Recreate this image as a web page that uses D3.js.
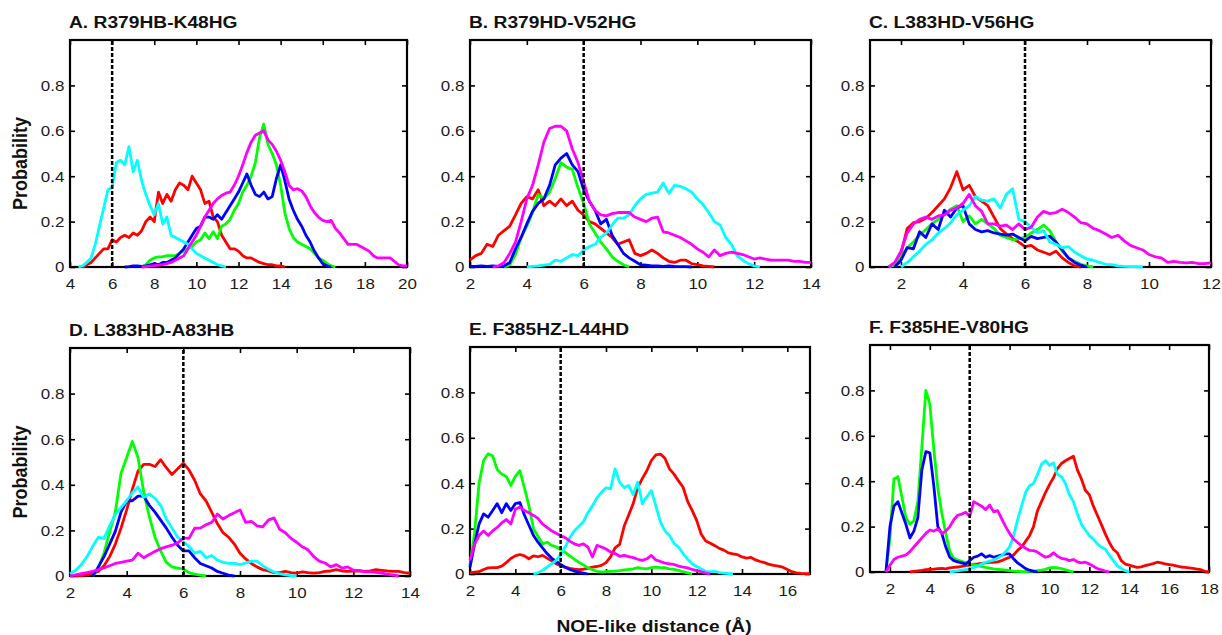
<!DOCTYPE html>
<html>
<head>
<meta charset="utf-8">
<script src="https://cdn.jsdelivr.net/npm/d3@7"></script>
<style>
  body { margin: 0; background: #fff; }
  svg { display: block; }
</style>
</head>
<body>
<svg id="chart" width="1222" height="635"></svg>
<script>
(function() {

	// histogram bins are 0.2 Å wide; each series is stored from its first bin
	var binWidth = 0.2,
		cutoff = 6,
		yTicks = [0, 0.2, 0.4, 0.6, 0.8];

	var panelTitles = ["A. R379HB-K48HG", "B. R379HD-V52HG", "C. L383HD-V56HG",
		"D. L383HD-A83HB", "E. F385HZ-L44HD", "F. F385HE-V80HG"];
	var xDomains = [[4, 20], [2, 14], [1, 12], [2, 14], [2, 17], [1, 18]];
	var xTicks = [
		[4, 6, 8, 10, 12, 14, 16, 18, 20],
		[2, 4, 6, 8, 10, 12, 14],
		[2, 4, 6, 8, 10, 12],
		[2, 4, 6, 8, 10, 12, 14],
		[2, 4, 6, 8, 10, 12, 14, 16],
		[2, 4, 6, 8, 10, 12, 14, 16, 18]
	];

	// first bin of each series: red, green, blue, cyan, magenta
	var aStarts = [4.6, 7.4, 6.6, 4.4, 7.4];
	var aRed = [0, 0.01, 0.02, 0.04, 0.06, 0.08, 0.08, 0.12, 0.11, 0.13, 0.14, 0.13, 0.15, 0.14, 0.16, 0.2, 0.22, 0.2, 0.33, 0.28, 0.32, 0.29, 0.34, 0.37, 0.36, 0.34, 0.4, 0.37, 0.34, 0.28, 0.29, 0.22, 0.2, 0.14, 0.11, 0.08, 0.08, 0.07, 0.05, 0.04, 0.04, 0.03, 0.02, 0.015, 0.01, 0.01, 0.005, 0.005, 0];
	var aGreen = [0, 0.01, 0.03, 0.04, 0.045, 0.045, 0.05, 0.05, 0.05, 0.06, 0.07, 0.08, 0.09, 0.11, 0.12, 0.15, 0.125, 0.155, 0.125, 0.18, 0.19, 0.21, 0.25, 0.28, 0.33, 0.36, 0.4, 0.46, 0.57, 0.63, 0.54, 0.5, 0.45, 0.36, 0.24, 0.17, 0.13, 0.11, 0.1, 0.09, 0.08, 0.06, 0.04, 0.03, 0.015, 0.005, 0];
	var aBlue = [0, 0.002, 0.005, 0.005, 0.003, 0.005, 0.01, 0.015, 0.01, 0.02, 0.02, 0.03, 0.04, 0.06, 0.08, 0.11, 0.14, 0.17, 0.18, 0.22, 0.22, 0.21, 0.23, 0.21, 0.24, 0.27, 0.3, 0.33, 0.37, 0.41, 0.36, 0.32, 0.31, 0.33, 0.3, 0.31, 0.39, 0.45, 0.38, 0.3, 0.25, 0.21, 0.18, 0.14, 0.11, 0.07, 0.04, 0.015, 0.005, 0];
	var aCyan = [0, 0.005, 0.02, 0.04, 0.1, 0.18, 0.26, 0.34, 0.35, 0.46, 0.47, 0.45, 0.53, 0.42, 0.47, 0.38, 0.32, 0.27, 0.23, 0.28, 0.19, 0.22, 0.14, 0.13, 0.12, 0.11, 0.1, 0.08, 0.06, 0.05, 0.04, 0.03, 0.02, 0.01, 0.005, 0];
	var aMagenta = [0, 0.002, 0.004, 0.006, 0.008, 0.01, 0.015, 0.02, 0.03, 0.04, 0.05, 0.08, 0.11, 0.14, 0.18, 0.22, 0.25, 0.28, 0.3, 0.315, 0.325, 0.33, 0.36, 0.4, 0.45, 0.505, 0.55, 0.58, 0.59, 0.6, 0.56, 0.54, 0.51, 0.47, 0.42, 0.36, 0.34, 0.345, 0.335, 0.31, 0.27, 0.24, 0.22, 0.205, 0.2, 0.205, 0.17, 0.15, 0.125, 0.1, 0.1, 0.1, 0.09, 0.08, 0.07, 0.05, 0.04, 0.04, 0.04, 0.04, 0.025, 0.01, 0.005, 0.005];

	var bStarts = [2.0, 3.2, 2.0, 4.0, 2.8];
	var bRed = [0.03, 0.05, 0.06, 0.1, 0.09, 0.14, 0.16, 0.18, 0.23, 0.28, 0.31, 0.3, 0.34, 0.27, 0.29, 0.27, 0.3, 0.27, 0.29, 0.25, 0.23, 0.2, 0.19, 0.17, 0.15, 0.13, 0.1, 0.11, 0.12, 0.06, 0.05, 0.06, 0.075, 0.06, 0.04, 0.025, 0.02, 0.03, 0.03, 0.015, 0.01, 0.005, 0.003, 0];
	var bGreen = [0, 0.01, 0.055, 0.13, 0.18, 0.24, 0.32, 0.3, 0.33, 0.39, 0.46, 0.44, 0.43, 0.35, 0.28, 0.19, 0.15, 0.11, 0.08, 0.045, 0.025, 0.01, 0];
	var bBlue = [0.003, 0.003, 0.005, 0.003, 0.005, 0.003, 0.005, 0.02, 0.08, 0.13, 0.19, 0.245, 0.28, 0.3, 0.36, 0.45, 0.48, 0.5, 0.45, 0.42, 0.34, 0.29, 0.25, 0.19, 0.21, 0.14, 0.1, 0.06, 0.04, 0.025, 0.01, 0.008, 0.005, 0.005, 0.003, 0.005, 0.003, 0.002, 0.002, 0];
	var bCyan = [0, 0.003, 0.005, 0.008, 0.012, 0.03, 0.025, 0.04, 0.055, 0.05, 0.075, 0.09, 0.1, 0.13, 0.15, 0.185, 0.215, 0.215, 0.23, 0.27, 0.3, 0.32, 0.325, 0.33, 0.37, 0.325, 0.36, 0.355, 0.345, 0.33, 0.3, 0.275, 0.24, 0.2, 0.185, 0.13, 0.1, 0.05, 0.03, 0.015, 0.005, 0];
	var bMagenta = [0, 0.005, 0.02, 0.06, 0.11, 0.2, 0.3, 0.36, 0.45, 0.55, 0.61, 0.62, 0.62, 0.6, 0.52, 0.46, 0.375, 0.29, 0.25, 0.23, 0.225, 0.235, 0.24, 0.24, 0.24, 0.22, 0.21, 0.2, 0.215, 0.22, 0.155, 0.15, 0.14, 0.13, 0.115, 0.1, 0.08, 0.065, 0.045, 0.075, 0.05, 0.06, 0.065, 0.06, 0.055, 0.045, 0.035, 0.04, 0.035, 0.03, 0.03, 0.03, 0.03, 0.025, 0.025, 0.02, 0.02];

	var cStarts = [1.6, 1.6, 1.8, 2.0, 1.6];
	var cRed = [0, 0.01, 0.06, 0.17, 0.195, 0.2, 0.215, 0.24, 0.27, 0.3, 0.35, 0.42, 0.34, 0.36, 0.31, 0.29, 0.27, 0.22, 0.17, 0.145, 0.125, 0.11, 0.09, 0.095, 0.075, 0.065, 0.055, 0.07, 0.04, 0.02, 0.005, 0];
	var cGreen = [0, 0.01, 0.045, 0.085, 0.11, 0.14, 0.165, 0.19, 0.21, 0.23, 0.255, 0.27, 0.2, 0.225, 0.19, 0.21, 0.19, 0.17, 0.14, 0.13, 0.12, 0.125, 0.13, 0.15, 0.165, 0.185, 0.16, 0.11, 0.07, 0.04, 0.025, 0.012, 0.005, 0];
	var cBlue = [0, 0.03, 0.085, 0.08, 0.155, 0.13, 0.19, 0.165, 0.25, 0.22, 0.26, 0.27, 0.19, 0.165, 0.155, 0.16, 0.15, 0.145, 0.14, 0.145, 0.13, 0.115, 0.135, 0.125, 0.13, 0.135, 0.11, 0.075, 0.04, 0.02, 0.008, 0];
	var cCyan = [0, 0.02, 0.045, 0.07, 0.1, 0.12, 0.15, 0.17, 0.195, 0.23, 0.25, 0.27, 0.31, 0.295, 0.29, 0.3, 0.26, 0.32, 0.345, 0.21, 0.2, 0.175, 0.15, 0.16, 0.11, 0.1, 0.085, 0.09, 0.065, 0.05, 0.035, 0.03, 0.02, 0.012, 0.01, 0.005, 0.003, 0.002, 0.001, 0];
	var cMagenta = [0, 0.02, 0.07, 0.15, 0.19, 0.21, 0.22, 0.21, 0.225, 0.23, 0.25, 0.26, 0.28, 0.32, 0.27, 0.245, 0.19, 0.19, 0.18, 0.185, 0.165, 0.19, 0.165, 0.175, 0.22, 0.245, 0.235, 0.24, 0.255, 0.24, 0.22, 0.195, 0.19, 0.17, 0.16, 0.145, 0.13, 0.14, 0.115, 0.095, 0.085, 0.075, 0.055, 0.045, 0.04, 0.02, 0.025, 0.02, 0.018, 0.02, 0.015, 0.015, 0.018];

	var dStarts = [2.2, 2.8, 2.8, 2.0, 2.0];
	var dRed = [0, 0.003, 0.005, 0.01, 0.02, 0.045, 0.085, 0.14, 0.21, 0.29, 0.38, 0.46, 0.49, 0.49, 0.48, 0.51, 0.475, 0.445, 0.47, 0.495, 0.465, 0.42, 0.36, 0.33, 0.28, 0.23, 0.19, 0.17, 0.14, 0.1, 0.075, 0.055, 0.04, 0.028, 0.022, 0.015, 0.015, 0.02, 0.015, 0.013, 0.018, 0.015, 0.013, 0.015, 0.02, 0.022, 0.028, 0.022, 0.02, 0.022, 0.023, 0.02, 0.022, 0.028, 0.025, 0.022, 0.02, 0.02, 0.015, 0.012];
	var dGreen = [0, 0.035, 0.1, 0.195, 0.28, 0.45, 0.52, 0.59, 0.52, 0.37, 0.26, 0.17, 0.11, 0.06, 0.04, 0.035, 0.03, 0.015, 0.008, 0.004, 0];
	var dBlue = [0, 0.04, 0.085, 0.14, 0.196, 0.28, 0.33, 0.33, 0.35, 0.35, 0.31, 0.28, 0.245, 0.21, 0.17, 0.135, 0.11, 0.11, 0.08, 0.055, 0.045, 0.035, 0.02, 0.012, 0.004, 0];
	var dCyan = [0.01, 0.025, 0.05, 0.085, 0.13, 0.17, 0.165, 0.22, 0.27, 0.3, 0.33, 0.365, 0.39, 0.345, 0.36, 0.34, 0.31, 0.25, 0.21, 0.17, 0.15, 0.13, 0.1, 0.108, 0.08, 0.09, 0.07, 0.06, 0.055, 0.055, 0.05, 0.057, 0.065, 0.065, 0.045, 0.03, 0.018, 0.01, 0.005, 0.002, 0];
	var dMagenta = [0, 0.005, 0.01, 0.015, 0.02, 0.028, 0.035, 0.045, 0.055, 0.06, 0.065, 0.07, 0.1, 0.08, 0.094, 0.108, 0.12, 0.128, 0.135, 0.145, 0.167, 0.165, 0.21, 0.21, 0.225, 0.235, 0.272, 0.25, 0.265, 0.277, 0.29, 0.235, 0.24, 0.22, 0.215, 0.245, 0.255, 0.205, 0.19, 0.165, 0.148, 0.128, 0.115, 0.085, 0.065, 0.057, 0.04, 0.05, 0.035, 0.04, 0.025, 0.025, 0.018, 0.018, 0.016, 0.013, 0.008, 0.004, 0];

	var eStarts = [2.0, 2.0, 2.0, 4.8, 2.0];
	var eRed = [0.005, 0.008, 0.01, 0.02, 0.027, 0.028, 0.028, 0.035, 0.05, 0.068, 0.08, 0.086, 0.08, 0.067, 0.08, 0.076, 0.082, 0.07, 0.058, 0.045, 0.036, 0.03, 0.025, 0.021, 0.019, 0.021, 0.025, 0.03, 0.033, 0.038, 0.05, 0.075, 0.115, 0.13, 0.21, 0.26, 0.31, 0.38, 0.42, 0.455, 0.5, 0.525, 0.528, 0.51, 0.463, 0.44, 0.41, 0.382, 0.32, 0.28, 0.236, 0.175, 0.145, 0.135, 0.125, 0.113, 0.105, 0.093, 0.089, 0.085, 0.075, 0.07, 0.073, 0.062, 0.055, 0.05, 0.042, 0.038, 0.035, 0.03, 0.02, 0.01, 0.005, 0.003, 0.002, 0.002];
	var eGreen = [0.04, 0.18, 0.4, 0.5, 0.53, 0.52, 0.46, 0.44, 0.43, 0.39, 0.43, 0.455, 0.38, 0.3, 0.2, 0.165, 0.133, 0.14, 0.126, 0.12, 0.107, 0.095, 0.08, 0.065, 0.052, 0.04, 0.027, 0.019, 0.012, 0.009, 0.01, 0.012, 0.013, 0.015, 0.018, 0.02, 0.023, 0.028, 0.025, 0.023, 0.028, 0.03, 0.028, 0.028, 0.023, 0.02, 0.016, 0.01, 0.005, 0];
	var eBlue = [0.03, 0.13, 0.22, 0.265, 0.25, 0.28, 0.31, 0.27, 0.31, 0.28, 0.31, 0.315, 0.26, 0.215, 0.17, 0.14, 0.115, 0.09, 0.07, 0.055, 0.042, 0.03, 0.02, 0.013, 0.008, 0.004, 0];
	var eCyan = [0, 0.005, 0.016, 0.03, 0.045, 0.06, 0.085, 0.12, 0.16, 0.19, 0.21, 0.23, 0.27, 0.3, 0.335, 0.36, 0.38, 0.375, 0.463, 0.405, 0.38, 0.39, 0.35, 0.404, 0.31, 0.34, 0.367, 0.3, 0.23, 0.19, 0.17, 0.135, 0.119, 0.09, 0.065, 0.045, 0.033, 0.022, 0.012, 0.01, 0.012, 0.006, 0.004, 0.002, 0];
	var eMagenta = [0.06, 0.13, 0.17, 0.19, 0.17, 0.19, 0.205, 0.225, 0.24, 0.22, 0.285, 0.295, 0.28, 0.27, 0.258, 0.245, 0.22, 0.205, 0.19, 0.18, 0.17, 0.16, 0.145, 0.133, 0.126, 0.133, 0.119, 0.075, 0.126, 0.119, 0.11, 0.097, 0.09, 0.078, 0.082, 0.077, 0.072, 0.065, 0.06, 0.067, 0.082, 0.062, 0.055, 0.048, 0.045, 0.042, 0.035, 0.03, 0.027, 0.02, 0.015, 0.01, 0.004, 0];

	var fStarts = [3.0, 1.8, 1.8, 5.0, 1.8];
	var fRed = [0, 0.003, 0.005, 0.007, 0.01, 0.012, 0.013, 0.015, 0.016, 0.014, 0.018, 0.02, 0.022, 0.025, 0.028, 0.03, 0.035, 0.036, 0.038, 0.04, 0.042, 0.043, 0.045, 0.05, 0.058, 0.065, 0.075, 0.095, 0.11, 0.135, 0.16, 0.2, 0.27, 0.31, 0.35, 0.385, 0.415, 0.455, 0.478, 0.49, 0.5, 0.51, 0.45, 0.41, 0.36, 0.34, 0.29, 0.25, 0.21, 0.168, 0.13, 0.1, 0.085, 0.05, 0.035, 0.03, 0.025, 0.02, 0.023, 0.028, 0.032, 0.037, 0.043, 0.04, 0.036, 0.033, 0.03, 0.026, 0.022, 0.02, 0.018, 0.016, 0.013, 0.01, 0.003, 0];
	var fGreen = [0, 0.15, 0.41, 0.42, 0.33, 0.24, 0.21, 0.225, 0.31, 0.55, 0.8, 0.74, 0.54, 0.37, 0.26, 0.17, 0.09, 0.06, 0.052, 0.047, 0.04, 0.035, 0.032, 0.028, 0.024, 0.02, 0.017, 0.014, 0.012, 0.01, 0.008, 0.006, 0.004, 0.003, 0.002, 0.002, 0.003, 0.004, 0.006, 0.008, 0.012, 0.018, 0.02, 0.018, 0.015, 0.01, 0.005, 0];
	var fBlue = [0, 0.2, 0.29, 0.31, 0.26, 0.21, 0.15, 0.18, 0.24, 0.45, 0.53, 0.525, 0.38, 0.2, 0.17, 0.11, 0.065, 0.05, 0.045, 0.04, 0.035, 0.05, 0.065, 0.07, 0.08, 0.065, 0.072, 0.065, 0.07, 0.075, 0.08, 0.08, 0.058, 0.04, 0.028, 0.015, 0.008, 0.004, 0];
	var fCyan = [0, 0.003, 0.005, 0.008, 0.01, 0.015, 0.02, 0.025, 0.035, 0.043, 0.048, 0.052, 0.062, 0.072, 0.09, 0.11, 0.16, 0.23, 0.29, 0.35, 0.38, 0.39, 0.43, 0.475, 0.49, 0.47, 0.48, 0.43, 0.42, 0.39, 0.34, 0.31, 0.255, 0.21, 0.185, 0.16, 0.145, 0.124, 0.11, 0.1, 0.075, 0.05, 0.028, 0.015, 0.006, 0];
	var fMagenta = [0, 0.03, 0.055, 0.065, 0.07, 0.075, 0.09, 0.11, 0.13, 0.15, 0.17, 0.185, 0.18, 0.19, 0.17, 0.18, 0.2, 0.23, 0.25, 0.255, 0.263, 0.245, 0.31, 0.3, 0.29, 0.275, 0.295, 0.265, 0.27, 0.235, 0.2, 0.17, 0.145, 0.13, 0.115, 0.105, 0.095, 0.094, 0.088, 0.075, 0.065, 0.07, 0.085, 0.07, 0.06, 0.057, 0.05, 0.055, 0.045, 0.04, 0.043, 0.035, 0.025, 0.015, 0.01, 0.004, 0];

	// red, green, blue, cyan, magenta
	var lineColours = ["#ff0000", "#00ff00", "#0000ff", "#00ffff", "#ff00ff"];
	var drawOrder = [0, 1, 2, 3, 4];

	var panelStarts = [aStarts, bStarts, cStarts, dStarts, eStarts, fStarts];
	var panelSeries = [
		[aRed, aGreen, aBlue, aCyan, aMagenta],
		[bRed, bGreen, bBlue, bCyan, bMagenta],
		[cRed, cGreen, cBlue, cCyan, cMagenta],
		[dRed, dGreen, dBlue, dCyan, dMagenta],
		[eRed, eGreen, eBlue, eCyan, eMagenta],
		[fRed, fGreen, fBlue, fCyan, fMagenta]
	];

	// plot frames in pixels
	var boxes = [
		{ left: 70,  right: 407,  top: 40,  bottom: 267 },
		{ left: 470, right: 811,  top: 40,  bottom: 267 },
		{ left: 870, right: 1211, top: 40,  bottom: 267 },
		{ left: 70,  right: 410,  top: 348, bottom: 576 },
		{ left: 470, right: 810,  top: 347, bottom: 574 },
		{ left: 870, right: 1209, top: 345, bottom: 572 }
	];

	var font = "'Liberation Sans', Arial, Helvetica, sans-serif",
		squash = 1.13; // the figure is a little wider than tall

	var svg = d3.select("#chart");
	svg.append("rect").attr("width", 1222).attr("height", 635).attr("fill", "#fff");

	var styleAxis = function(g, showText) {
		g.select(".domain").remove();
		g.selectAll(".tick line").attr("stroke", "#000").attr("stroke-width", 1.6);
		g.attr("font-family", font).attr("font-size", 15);
		if (showText) {
			g.selectAll(".tick text").attr("fill", "#1a1a1a").attr("transform", "scale(" + squash + ",1)");
		} else {
			g.selectAll(".tick text").remove();
		}
	};

	var drawPanel = function(i) {
		var box = boxes[i];
		var x = d3.scaleLinear().domain(xDomains[i]).range([box.left, box.right]);
		var y = d3.scaleLinear().domain([0, 1]).range([box.bottom, box.top]);
		var g = svg.append("g").attr("class", "panel");

		g.append("rect")
			.attr("x", box.left).attr("y", box.top)
			.attr("width", box.right - box.left).attr("height", box.bottom - box.top)
			.attr("fill", "none").attr("stroke", "#000").attr("stroke-width", 2.2);

		g.append("g").attr("transform", "translate(0," + box.bottom + ")")
			.call(d3.axisBottom(x).tickValues(xTicks[i]).tickSize(-5).tickPadding(11).tickFormat(d3.format("d")))
			.call(styleAxis, true);
		g.append("g").attr("transform", "translate(0," + box.top + ")")
			.call(d3.axisTop(x).tickValues(xTicks[i]).tickSize(-5))
			.call(styleAxis, false);
		g.append("g").attr("transform", "translate(" + box.left + ",0)")
			.call(d3.axisLeft(y).tickValues(yTicks).tickSize(-5).tickPadding(5)
				.tickFormat(function(d) { return d === 0 ? "0" : d3.format(".1f")(d); }))
			.call(styleAxis, true);
		g.append("g").attr("transform", "translate(" + box.right + ",0)")
			.call(d3.axisRight(y).tickValues(yTicks).tickSize(-5))
			.call(styleAxis, false);

		var line = d3.line()
			.x(function(d) { return x(d[0]); })
			.y(function(d) { return y(d[1]); });

		drawOrder.forEach(function(s) {
			var start = panelStarts[i][s];
			var pts = panelSeries[i][s].map(function(v, k) { return [start + k * binWidth, v]; });
			g.append("path")
				.datum(pts)
				.attr("d", line)
				.attr("fill", "none")
				.attr("stroke", lineColours[s])
				.attr("stroke-width", 2.8)
				.attr("stroke-linejoin", "round");
		});

		g.append("line")
			.attr("x1", x(cutoff)).attr("x2", x(cutoff))
			.attr("y1", y(0)).attr("y2", y(1))
			.attr("stroke", "#000").attr("stroke-width", 2.5)
			.attr("stroke-dasharray", "4,2");

		g.append("text")
			.attr("transform", "translate(" + (box.left - 1) + "," + (box.top - 12) + ") scale(" + squash + ",1)")
			.attr("font-family", font).attr("font-size", 17).attr("font-weight", "bold")
			.attr("fill", "#111")
			.text(panelTitles[i]);
	};

	d3.range(6).forEach(drawPanel);

	// shared labels
	[boxes[0], boxes[3]].forEach(function(box) {
		svg.append("text")
			.attr("transform", "translate(27," + ((box.top + box.bottom) / 2 + 10) + ") scale(" + squash + ",1) rotate(-90)")
			.attr("text-anchor", "middle")
			.attr("font-family", font).attr("font-size", 18).attr("font-weight", "bold")
			.attr("fill", "#111")
			.text("Probability");
	});

	svg.append("text")
		.attr("transform", "translate(654,632) scale(" + squash + ",1)")
		.attr("text-anchor", "middle")
		.attr("font-family", font).attr("font-size", 17).attr("font-weight", "bold")
		.attr("fill", "#111")
		.text("NOE-like distance (Å)");

})();
</script>
</body>
</html>
